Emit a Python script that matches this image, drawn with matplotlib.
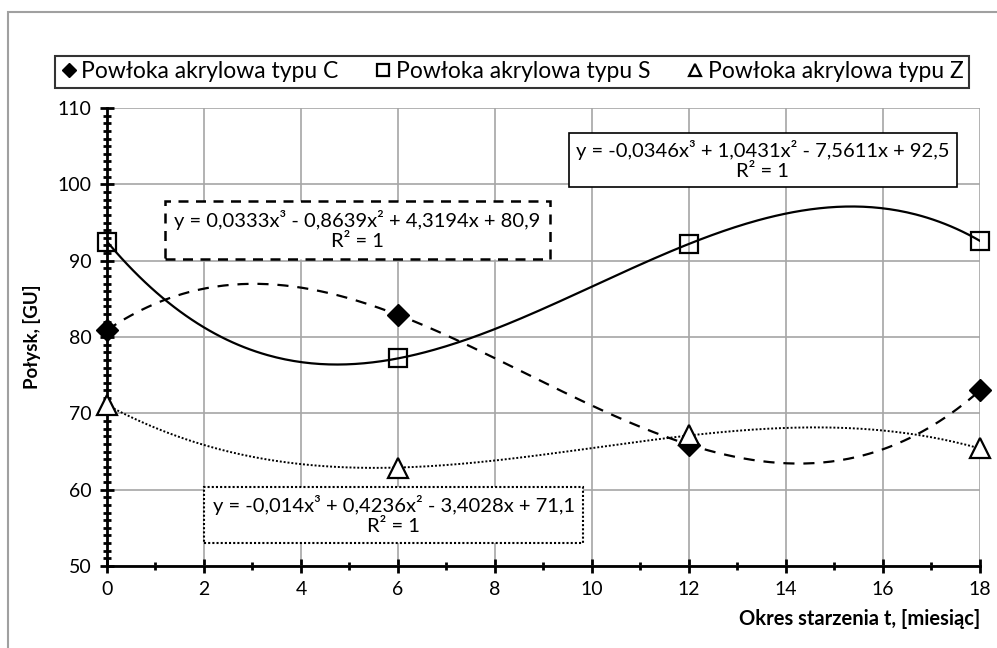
import numpy as np
import matplotlib.pyplot as plt
from matplotlib.patches import Rectangle
from matplotlib.ticker import MultipleLocator

plt.rcParams["font.family"] = ["Lato", "DejaVu Sans"]

months = [0, 6, 12, 18]
gloss_c = [80.9, 82.9, 65.9, 73.0]
gloss_s = [92.5, 77.2, 92.2, 92.6]
gloss_z = [71.1, 62.9, 67.1, 65.4]

labels = ["Powłoka akrylowa typu C", "Powłoka akrylowa typu S", "Powłoka akrylowa typu Z"]
eq_c = "y = 0,0333x³ - 0,8639x² + 4,3194x + 80,9\nR² = 1"
eq_s = "y = -0,0346x³ + 1,0431x² - 7,5611x + 92,5\nR² = 1"
eq_z = "y = -0,014x³ + 0,4236x² - 3,4028x + 71,1\nR² = 1"

fig = plt.figure(figsize=(9.97, 6.48), dpi=100)
fig.patches.append(Rectangle((0.008, -0.01), 1.0, 0.992, transform=fig.transFigure,
                             fill=False, edgecolor="#a0a0a0", linewidth=1.5))
ax = fig.add_axes([0.1073, 0.1265, 0.8756, 0.7068])

# cubic trendlines, fitted like the spreadsheet does
xx = np.linspace(0, 18, 300)
fit_c = np.polyval(np.polyfit(months, gloss_c, 3), xx)
fit_s = np.polyval(np.polyfit(months, gloss_s, 3), xx)
fit_z = np.polyval(np.polyfit(months, gloss_z, 3), xx)

ax.plot(xx, fit_c, color="black", linestyle=(0, (5, 4)), linewidth=1.6, zorder=3)
ax.plot(xx, fit_s, color="black", linestyle="-", linewidth=1.6, zorder=3)
ax.plot(xx, fit_z, color="black", linestyle=(0, (1, 1)), linewidth=1.4, zorder=3)

h1, = ax.plot(months, gloss_c, linestyle="none", marker="D", markersize=11.5,
              markerfacecolor="black", markeredgecolor="black", zorder=6, clip_on=False)
h2, = ax.plot(months, gloss_s, linestyle="none", marker="s", markersize=13,
              markerfacecolor="none", markeredgecolor="black", markeredgewidth=1.6,
              zorder=6, clip_on=False)
h3, = ax.plot(months, gloss_z, linestyle="none", marker="^", markersize=14,
              markerfacecolor="white", markeredgecolor="black", markeredgewidth=1.6,
              zorder=6, clip_on=False)

ax.set_xlim(0, 18)
ax.set_ylim(50, 110)
ax.xaxis.set_major_locator(MultipleLocator(2))
ax.xaxis.set_minor_locator(MultipleLocator(1))
ax.yaxis.set_major_locator(MultipleLocator(10))
ax.yaxis.set_minor_locator(MultipleLocator(1))
ax.grid(True, which="major", color="#a6a6a6", linewidth=1.2)
ax.set_axisbelow(True)
for s in ["top", "right"]:
    ax.spines[s].set_visible(False)
for s in ["left", "bottom"]:
    ax.spines[s].set_linewidth(2)
    ax.spines[s].set_zorder(5)
ax.tick_params(which="major", direction="inout", length=10, width=2, labelsize=14, pad=6)
ax.tick_params(which="minor", direction="inout", length=6, width=2)

ax.set_ylabel("Połysk, [GU]", fontsize=13.5, fontweight="bold", labelpad=12)
ax.set_xlabel("Okres starzenia t, [miesiąc]", fontsize=14.5, fontweight="bold", loc="right", labelpad=8)

leg = fig.legend([h1, h2, h3], labels, loc="center", bbox_to_anchor=(0.5135, 0.889), ncol=3,
                 frameon=True, fancybox=False, edgecolor="black", fontsize=16.5, handlelength=0.7,
                 handletextpad=0.2, columnspacing=1.6, borderpad=0.25, markerscale=0.65)
leg.get_frame().set_linewidth(1.5)

ax.text(0.3586, 0.645, eq_c, transform=fig.transFigure, ha="center", va="center",
        fontsize=14.5, linespacing=1.25,
        bbox=dict(boxstyle="square,pad=0.45", facecolor="white", edgecolor="black",
                  linewidth=1.8, linestyle=(0, (4, 3))))
ax.text(0.765, 0.753, eq_s, transform=fig.transFigure, ha="center", va="center",
        fontsize=14.5, linespacing=1.25,
        bbox=dict(boxstyle="square,pad=0.35", facecolor="white", edgecolor="black",
                  linewidth=1.2))
ax.text(0.3947, 0.205, eq_z, transform=fig.transFigure, ha="center", va="center",
        fontsize=14.5, linespacing=1.25,
        bbox=dict(boxstyle="square,pad=0.4", facecolor="white", edgecolor="black",
                  linewidth=1.5, linestyle=(0, (1, 1))))

fig.savefig("out.png", dpi=100)
